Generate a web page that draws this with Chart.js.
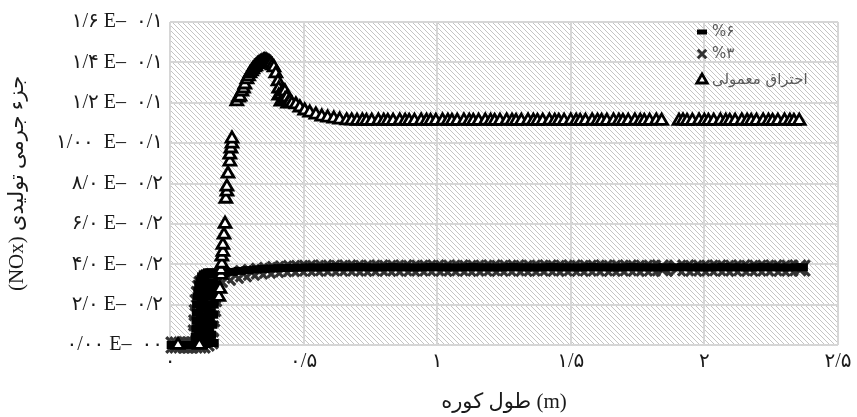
<!DOCTYPE html>
<html><head><meta charset="utf-8">
<script src="https://cdn.jsdelivr.net/npm/chart.js@4/dist/chart.umd.min.js"></script>
<style>html,body{margin:0;padding:0;background:#fff}#wrap{width:857px;height:417px}</style>
</head><body><div id="wrap"><canvas id="c" width="857" height="417"></canvas></div>
<script>
// ---- data ----
const seriesNames = ['%۶', '%۳', 'احتراق معمولی'];
const xTickLabels = ['۰', '۰/۵', '۱', '۱/۵', '۲', '۲/۵'];
const yTickLabels = ['۰/۰۰ E–  ۰۰', '۲/۰ E–  ۰/۲', '۴/۰ E–  ۰/۲', '۶/۰ E–  ۰/۲', '۸/۰ E–  ۰/۲', '۱/۰۰  E–  ۰/۱', '۱/۲ E–  ۰/۱', '۱/۴ E–  ۰/۱', '۱/۶ E–  ۰/۱'];
const xTitle = 'طول کوره (m)';
const yTitle = '(NOx) جزء جرمی تولیدی';

// %6 series [x (m), mass fraction]
const pct6Pts = [
[0.01,0],[0.02,0],[0.03,0],[0.04,0],[0.05,0],[0.06,0],[0.07,0],[0.08,0],[0.09,0],[0.10,0],[0.11,0],[0.12,0],[0.13,0.0005],[0.14,0.001],[0.15,0.001],[0.16,0.001],
[0.100,0.004],[0.102,0.008],[0.103,0.012],[0.104,0.016],[0.105,0.02],[0.107,0.024],[0.110,0.027],[0.113,0.030],[0.118,0.032],[0.124,0.034],[0.13,0.035],[0.138,0.0355],[0.146,0.036],[0.155,0.036],[0.162,0.0358],
[0.108,0.002],[0.112,0.006],[0.115,0.010],[0.118,0.014],[0.12,0.018],[0.122,0.022],[0.125,0.026],[0.128,0.029],
[0.125,0.004],[0.128,0.009],[0.13,0.014],[0.133,0.019],[0.136,0.024],[0.14,0.028],
[0.14,0.004],[0.142,0.008],[0.145,0.012],[0.148,0.016],[0.15,0.02],[0.152,0.024],[0.155,0.028],[0.158,0.031],
[0.15,0.005],[0.155,0.010],[0.158,0.015],[0.16,0.020],[0.163,0.025],[0.165,0.030],
[0.17,0.035],[0.20,0.0356],[0.23,0.0362],[0.26,0.0367],[0.29,0.0371],[0.32,0.0374],[0.35,0.0377],[0.38,0.0379],[0.41,0.0381],[0.44,0.0382],[0.47,0.0383],[0.50,0.0384],
[0.53,0.0385],[0.56,0.0384],[0.59,0.0385],[0.62,0.0386],[0.65,0.0385],[0.68,0.0385],[0.71,0.0386],[0.74,0.0385],[0.77,0.0384],[0.80,0.0385],[0.83,0.0386],[0.86,0.0385],
[0.89,0.0385],[0.92,0.0384],[0.95,0.0385],[0.98,0.0386],[1.01,0.0385],[1.04,0.0385],[1.07,0.0384],[1.10,0.0385],[1.13,0.0386],[1.16,0.0385],[1.19,0.0385],[1.22,0.0384],
[1.25,0.0385],[1.28,0.0386],[1.31,0.0385],[1.34,0.0385],[1.37,0.0384],[1.40,0.0385],[1.43,0.0386],[1.46,0.0385],[1.49,0.0385],[1.52,0.0384],[1.55,0.0385],[1.58,0.0386],
[1.61,0.0385],[1.64,0.0385],[1.67,0.0384],[1.70,0.0385],[1.73,0.0386],[1.76,0.0385],[1.79,0.0385],[1.82,0.0384],[1.85,0.0385],[1.89,0.0385],[1.92,0.0386],[1.95,0.0385],
[1.98,0.0385],[2.01,0.0384],[2.04,0.0385],[2.07,0.0386],[2.10,0.0385],[2.13,0.0385],[2.16,0.0384],[2.19,0.0385],[2.22,0.0386],[2.25,0.0385],[2.28,0.0385],[2.31,0.0384],
[2.34,0.0385],[2.365,0.0385]
];

// %3 series
const pct3Pts = [
[0.015,0],[0.03,0],[0.045,0],[0.06,0],[0.075,0],[0.09,0],[0.105,0],[0.12,0],[0.135,0.001],[0.15,0.002],
[0.098,0.006],[0.100,0.011],[0.102,0.016],[0.105,0.021],[0.11,0.025],[0.115,0.028],[0.12,0.030],[0.13,0.031],[0.14,0.032],[0.15,0.033],[0.16,0.033],
[0.152,0.008],[0.156,0.013],[0.16,0.018],[0.163,0.023],[0.166,0.028],
[0.185,0.0325],[0.215,0.0335],[0.245,0.0345],[0.275,0.0353],[0.305,0.036],[0.335,0.0366],[0.365,0.037],[0.395,0.0374],[0.425,0.0377],[0.455,0.0379],[0.485,0.038],
[0.515,0.0381],[0.545,0.038],[0.575,0.0382],[0.605,0.0381],[0.635,0.038],[0.665,0.0382],[0.695,0.0381],[0.725,0.038],[0.755,0.0381],[0.785,0.0382],[0.815,0.038],
[0.845,0.0381],[0.875,0.0382],[0.905,0.038],[0.935,0.0381],[0.965,0.0381],[0.995,0.0382],[1.025,0.038],[1.055,0.0381],[1.085,0.0382],[1.115,0.038],[1.145,0.0381],
[1.175,0.0381],[1.205,0.0382],[1.235,0.038],[1.265,0.0381],[1.295,0.0382],[1.325,0.038],[1.355,0.0381],[1.385,0.0381],[1.415,0.0382],[1.445,0.038],[1.475,0.0381],
[1.505,0.0382],[1.535,0.038],[1.565,0.0381],[1.595,0.0381],[1.625,0.0382],[1.655,0.038],[1.685,0.0381],[1.715,0.0382],[1.745,0.038],[1.775,0.0381],[1.805,0.0381],
[1.835,0.0382],[1.85,0.038],[1.90,0.0381],[1.93,0.0382],[1.96,0.038],[1.99,0.0381],[2.02,0.0381],[2.05,0.0382],[2.08,0.038],[2.11,0.0381],[2.14,0.0382],[2.17,0.038],
[2.20,0.0381],[2.23,0.0381],[2.26,0.0382],[2.29,0.038],[2.32,0.0381],[2.35,0.0382],[2.365,0.0381]
];

// conventional combustion series
const normalPts = [
[0.03,0],[0.11,0],
[0.183,0.0238],[0.187,0.0278],[0.191,0.0347],[0.191,0.0372],[0.194,0.0402],[0.194,0.0437],[0.198,0.0461],[0.198,0.0496],[0.202,0.0546],[0.206,0.060],
[0.209,0.0724],[0.213,0.0759],[0.213,0.0784],[0.217,0.0848],[0.224,0.0908],[0.224,0.0943],[0.228,0.0973],[0.232,0.0997],[0.232,0.1022],
[0.250,0.1206],[0.256,0.1225],[0.262,0.123],[0.269,0.1255],[0.275,0.127],[0.280,0.129],[0.288,0.1315],[0.294,0.133],[0.299,0.1345],[0.305,0.1355],[0.310,0.1365],
[0.316,0.1375],[0.321,0.138],[0.327,0.139],[0.333,0.1395],[0.338,0.14],[0.344,0.1404],[0.350,0.1408],[0.355,0.141],[0.360,0.1408],[0.366,0.1404],[0.371,0.14],
[0.377,0.1395],[0.383,0.1385],[0.389,0.1375],[0.396,0.1345],[0.404,0.1305],[0.407,0.127],[0.407,0.1235],[0.415,0.124],[0.415,0.1205],[0.422,0.1216],[0.430,0.1256],
[0.430,0.1215],[0.437,0.1226],[0.440,0.1195],[0.448,0.1206],[0.456,0.1196],[0.471,0.1191],[0.486,0.1176],[0.504,0.1161],[0.523,0.1151],[0.546,0.1141],[0.568,0.1131],
[0.590,0.1126],[0.613,0.1121],[0.635,0.1116],[0.661,0.1112],
[0.68,0.1111],[0.70,0.111],[0.72,0.1111],[0.735,0.1109],[0.755,0.111],[0.78,0.1111],[0.80,0.111],[0.815,0.1109],[0.835,0.111],[0.86,0.1111],[0.88,0.111],
[0.895,0.1109],[0.915,0.111],[0.94,0.1111],[0.96,0.111],[0.975,0.1109],[0.995,0.111],[1.02,0.1111],[1.04,0.111],[1.055,0.1109],[1.075,0.111],[1.10,0.1111],
[1.12,0.111],[1.135,0.1109],[1.155,0.111],[1.18,0.1111],[1.20,0.111],[1.215,0.1109],[1.235,0.111],[1.26,0.1111],[1.28,0.111],[1.295,0.1109],[1.315,0.111],
[1.34,0.1111],[1.36,0.111],[1.375,0.1109],[1.395,0.111],[1.42,0.1111],[1.44,0.111],[1.455,0.1109],[1.475,0.111],[1.50,0.1111],[1.52,0.111],[1.535,0.1109],
[1.555,0.111],[1.58,0.1111],[1.60,0.111],[1.615,0.1109],[1.635,0.111],[1.66,0.1111],[1.68,0.111],[1.695,0.1109],[1.715,0.111],[1.74,0.1111],[1.76,0.111],
[1.775,0.1109],[1.795,0.111],[1.82,0.1111],[1.84,0.111],[1.905,0.111],[1.92,0.1111],[1.935,0.1109],[1.955,0.111],[1.98,0.1111],[2.00,0.111],[2.015,0.1109],
[2.035,0.111],[2.06,0.1111],[2.08,0.111],[2.095,0.1109],[2.115,0.111],[2.14,0.1111],[2.16,0.111],[2.175,0.1109],[2.195,0.111],[2.22,0.1111],[2.24,0.111],
[2.255,0.1109],[2.275,0.111],[2.30,0.1111],[2.32,0.111],[2.335,0.1109],[2.355,0.111]
];

// ---- rendering ----
const toXY = pts => pts.map(p => ({x: p[0], y: p[1]}));
const LRO = s => '\u202D' + s + '\u202C';

function makeHatch() {
  const n = 5;
  const c = document.createElement('canvas');
  c.width = n; c.height = n;
  const g = c.getContext('2d');
  g.fillStyle = '#ffffff'; g.fillRect(0, 0, n, n);
  g.fillStyle = 'rgb(196,196,196)';
  for (let i = 0; i < n; i++) g.fillRect(i, i, 1, 1);
  return c;
}

const hatchPlugin = {
  id: 'hatch',
  beforeDraw(chart) {
    const {ctx, chartArea: a} = chart;
    ctx.save();
    ctx.fillStyle = ctx.createPattern(makeHatch(), 'repeat');
    ctx.fillRect(a.left, a.top, a.right - a.left, a.bottom - a.top);
    ctx.restore();
  }
};

const legendPos = [[702, 32], [702, 54], [702, 80]];
const legendRadius = [5, 6, 6];
const legendWidth = [5, 3, 2.8];
const legendPlugin = {
  id: 'innerLegend',
  afterDraw(chart) {
    const ctx = chart.ctx;
    chart.data.datasets.forEach((ds, i) => {
      const [x, y] = legendPos[i];
      ctx.save();
      ctx.fillStyle = ds.pointBackgroundColor;
      ctx.strokeStyle = ds.pointBorderColor;
      ctx.lineWidth = legendWidth[i];
      Chart.helpers.drawPoint(ctx, {pointStyle: ds.pointStyle, rotation: 0, radius: legendRadius[i], borderWidth: legendWidth[i]}, x, y);
      ctx.fillStyle = '#595959';
      ctx.font = '15px "DejaVu Sans", "Liberation Serif", serif';
      ctx.textAlign = 'left';
      ctx.textBaseline = 'middle';
      ctx.fillText(ds.label, x + 10, y);
      ctx.restore();
    });
  }
};

const tickFont = {family: '"Liberation Serif", "DejaVu Sans", serif', size: 20};
const titleFont = {family: '"Liberation Serif", "DejaVu Sans", serif', size: 21};

new Chart(document.getElementById('c'), {
  type: 'scatter',
  data: {
    datasets: [
      {label: seriesNames[0], data: toXY(pct6Pts), order: 1, clip: false, pointStyle: 'line', pointRadius: 6, pointBorderWidth: 8,
       pointBackgroundColor: '#000', pointBorderColor: '#000', backgroundColor: '#000', borderColor: '#000'},
      {label: seriesNames[1], data: toXY(pct3Pts), order: 2, clip: false, pointStyle: 'crossRot', pointRadius: 11, pointBorderWidth: 3.2,
       pointBackgroundColor: '#333', pointBorderColor: '#333', backgroundColor: '#333', borderColor: '#333'},
      {label: seriesNames[2], data: toXY(normalPts), order: 0, clip: false, pointStyle: 'triangle', pointRadius: 6.8, pointBorderWidth: 2.8,
       pointBackgroundColor: '#ffffff', pointBorderColor: '#000', backgroundColor: '#fff', borderColor: '#000'}
    ]
  },
  options: {
    responsive: false,
    animation: false,
    devicePixelRatio: 1,
    events: [],
    layout: {padding: {left: 0, right: 19, top: 22, bottom: 0}},
    plugins: {legend: {display: false}, tooltip: {enabled: false}},
    scales: {
      x: {
        type: 'linear', min: 0, max: 2.5,
        border: {display: false},
        grid: {color: '#d6d6d6', lineWidth: 2, drawTicks: false},
        ticks: {stepSize: 0.5, padding: 5, color: '#1a1a1a', font: tickFont, maxRotation: 0, autoSkip: false,
                callback: v => LRO(xTickLabels[Math.round(v / 0.5)] ?? '')},
        title: {display: true, text: xTitle, color: '#1a1a1a', font: titleFont, padding: {top: 0, bottom: 2}},
        afterFit: s => { s.height = 72; }
      },
      y: {
        type: 'linear', min: 0, max: 0.16,
        border: {display: false},
        grid: {color: '#d6d6d6', lineWidth: 2, drawTicks: false},
        ticks: {stepSize: 0.02, padding: 7, color: '#1a1a1a', font: tickFont, autoSkip: false,
                callback: v => LRO(yTickLabels[Math.round(v / 0.02)] ?? '')},
        title: {display: true, text: yTitle, color: '#1a1a1a', font: titleFont, padding: {top: 5, bottom: 0}},
        afterFit: s => { s.width = 170; }
      }
    }
  },
  plugins: [hatchPlugin, legendPlugin]
});
</script></body></html>
